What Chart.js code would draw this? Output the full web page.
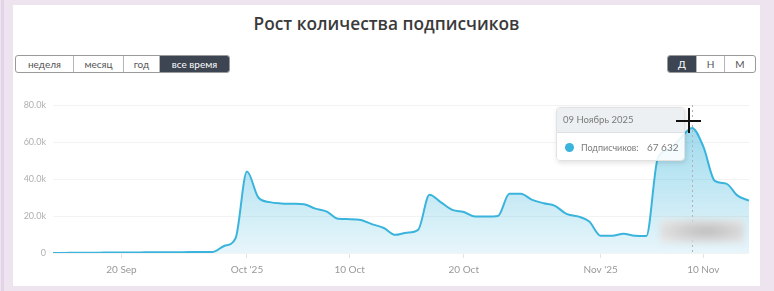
<!DOCTYPE html>
<html>
<head>
<meta charset="utf-8">
<script src="https://cdn.jsdelivr.net/npm/chart.js@4.4.0/dist/chart.umd.min.js"></script>
<style>
html, body { margin: 0; padding: 0; }
body { width: 774px; height: 291px; background: #eee4f0; position: relative; overflow: hidden; font-family: Lato, "Open Sans", sans-serif; }
.edge { position: absolute; left: 1px; top: 0; width: 3px; height: 291px; background: #e3d3e7; }
.card { position: absolute; left: 13px; top: 5px; width: 747px; height: 281px; background: #fff; }
h1 { position: absolute; left: 13px; width: 747px; top: 12px; margin: 0; text-align: center; font: 600 17.3px "Open Sans", sans-serif; color: #3a3a3a; }
.group { position: absolute; top: 55px; height: 16px; border: 1px solid #9a9a9a; border-radius: 3px; display: flex; overflow: hidden; background: #fff; }
.group div { height: 16px; line-height: 16px; text-align: center; font-size: 10px; color: #555; border-left: 1px solid #b5b5b5; box-sizing: border-box; }
.group div:first-child { border-left: none; }
.group div.on { background: #3d4452; color: #fff; }
#wrap { position: absolute; left: 13px; top: 85px; width: 747px; height: 197px; }
#tip { position: absolute; width: 129px; height: 54px; border: 1px solid #e2e2e2; border-radius: 4px; box-shadow: 1px 2px 5px rgba(0,0,0,0.12); overflow: hidden; font-size: 9.5px; color: #7a7a7a; box-sizing: border-box; }
#tip .th { height: 24px; line-height: 24px; padding-left: 6px; background: rgba(236,239,241,0.96); border-bottom: 1px solid #dde1e3; }
#tip .tb { position: relative; height: 29px; line-height: 29px; background: rgba(255,255,255,0.88); }
#tip .dot { position: absolute; left: 8px; top: 10px; width: 9px; height: 9px; border-radius: 50%; background: #3ab4dc; }
#tip .lab { position: absolute; left: 24px; font-size: 9px; }
#tip .val { position: absolute; left: 90px; font-size: 10px; }
.blur { position: absolute; left: 660px; top: 219px; width: 84px; height: 24px; background: radial-gradient(ellipse at 55% 50%, #bdbdbd 0%, #d9d9d9 55%, #ececec 100%); filter: blur(3px); }
.cur { position: absolute; background: #111; }
</style>
</head>
<body>
<div class="edge"></div>
<div class="card"></div>
<h1>Рост количества подписчиков</h1>
<div class="group" style="left:15px">
  <div style="width:57px">неделя</div><div style="width:50px">месяц</div><div style="width:36px">год</div><div class="on" style="width:70px">все время</div>
</div>
<div class="group" style="left:667px">
  <div class="on" style="width:28px">Д</div><div style="width:28px">Н</div><div style="width:31px">М</div>
</div>
<div id="wrap"><canvas id="subsChart"></canvas></div>
<div class="blur"></div>
<div id="tip"><div class="th" id="tipTitle"></div><div class="tb"><span class="dot"></span><span class="lab" id="tipLabel"></span><span class="val" id="tipValue"></span></div></div>
<div class="cur" id="curH" style="width:25px;height:2px"></div>
<div class="cur" id="curV" style="width:2px;height:25px"></div>
<script>
const startDay = '2025-09-14';
const dayCount = 62;
const subscribers = [
  0, 50, 100, 150, 200, 250, 300, 300, 350, 400, 400, 450, 500, 500, 600,
  3800, 8000, 44000, 30000, 27500, 26800, 26600, 26300, 24000, 22400, 18500, 18300, 17800, 15500, 13500, 9800,
  11000, 12500, 31500, 27400, 23300, 22200, 19700, 19700, 20000, 32000, 32000, 28700, 26900, 25500, 21100, 19800, 17000,
  9300, 9300, 10400, 9300, 9200, 51000, 56000, 62000, 67632, 57500, 39000, 37500, 31000, 28300
];
const tickDays = ['2025-09-20', '2025-10-01', '2025-10-10', '2025-10-20', '2025-11-01', '2025-11-10'];
const tickTexts = ['20 Sep', "Oct '25", '10 Oct', '20 Oct', "Nov '25", '10 Nov'];
const yTicks = [0, 20000, 40000, 60000, 80000];
const hoverDay = '2025-11-09';
const seriesName = 'Подписчиков';
const monthsRu = ['Январь', 'Февраль', 'Март', 'Апрель', 'Май', 'Июнь', 'Июль', 'Август', 'Сентябрь', 'Октябрь', 'Ноябрь', 'Декабрь'];

// day labels
let days = [];
let d0 = new Date(startDay + 'T00:00:00Z');
for (let i = 0; i < dayCount; i++) {
  let d = new Date(d0.getTime() + i * 86400000);
  days.push(d.toISOString().slice(0, 10));
}
const hoverIndex = days.indexOf(hoverDay);

const lineColor = '#3ab4dc';

const hoverLine = {
  id: 'hoverLine',
  afterDatasetsDraw(chart) {
    let pt = chart.getDatasetMeta(0).data[hoverIndex];
    let c = chart.ctx;
    c.save();
    c.strokeStyle = '#b0b0b0';
    c.lineWidth = 1;
    c.setLineDash([2, 3]);
    c.beginPath();
    c.moveTo(Math.round(pt.x) + 0.5, chart.chartArea.top);
    c.lineTo(Math.round(pt.x) + 0.5, chart.chartArea.bottom + 2);
    c.stroke();
    c.restore();
  }
};

let ctx = document.getElementById('subsChart');
let chart = new Chart(ctx, {
  type: 'line',
  data: {
    labels: days,
    datasets: [{
      label: seriesName,
      data: subscribers,
      borderColor: lineColor,
      borderWidth: 2,
      pointRadius: 0,
      cubicInterpolationMode: 'monotone',
      fill: 'origin',
      backgroundColor: function(context) {
        let area = context.chart.chartArea;
        if (!area) return 'rgba(58,180,220,0.2)';
        let g = context.chart.ctx.createLinearGradient(0, area.top, 0, area.bottom);
        g.addColorStop(0, 'rgba(58,180,220,0.55)');
        g.addColorStop(1, 'rgba(58,180,220,0.12)');
        return g;
      }
    }]
  },
  options: {
    responsive: true,
    maintainAspectRatio: false,
    animation: false,
    events: [],
    layout: { padding: { top: 20, right: 11, left: 0, bottom: 0 } },
    plugins: { legend: { display: false }, tooltip: { enabled: false } },
    scales: {
      x: {
        grid: { drawOnChartArea: false, tickLength: 5, color: '#e2e2e2' },
        border: { display: false },
        ticks: {
          autoSkip: false, maxRotation: 0, color: '#999', padding: 6,
          font: { family: 'Lato', size: 10 },
          callback: function(v, i) {
            let k = tickDays.indexOf(days[i]);
            return k < 0 ? null : tickTexts[k];
          }
        }
      },
      y: {
        min: 0, max: 80000,
        afterBuildTicks: function(s) { s.ticks = yTicks.map(v => ({ value: v })); },
        afterFit: function(s) { s.width = 40; },
        grid: { color: '#f3f3f3', drawTicks: false },
        border: { display: false },
        ticks: {
          color: '#b0b0b0', padding: 7,
          font: { family: 'Lato', size: 9 },
          callback: v => v === 0 ? '0' : (v / 1000).toFixed(1) + 'k'
        }
      }
    }
  },
  plugins: [hoverLine]
});

// tooltip placed at the hovered point
let pt = chart.getDatasetMeta(0).data[hoverIndex];
let wrap = document.getElementById('wrap');
let px = wrap.offsetLeft + pt.x;
let py = wrap.offsetTop + pt.y;
let hd = new Date(hoverDay + 'T00:00:00Z');
document.getElementById('tipTitle').textContent =
  String(hd.getUTCDate()).padStart(2, '0') + ' ' + monthsRu[hd.getUTCMonth()] + ' ' + hd.getUTCFullYear();
document.getElementById('tipLabel').textContent = seriesName + ':';
document.getElementById('tipValue').textContent =
  String(subscribers[hoverIndex]).replace(/\B(?=(\d{3})+(?!\d))/g, ' ');
let tip = document.getElementById('tip');
tip.style.left = (px - 136) + 'px';
tip.style.top = (py - 21) + 'px';
let ch = document.getElementById('curH');
let cv = document.getElementById('curV');
ch.style.left = (px - 16) + 'px';
ch.style.top = (py - 8) + 'px';
cv.style.left = (px - 4) + 'px';
cv.style.top = (py - 20) + 'px';
</script>
</body>
</html>
